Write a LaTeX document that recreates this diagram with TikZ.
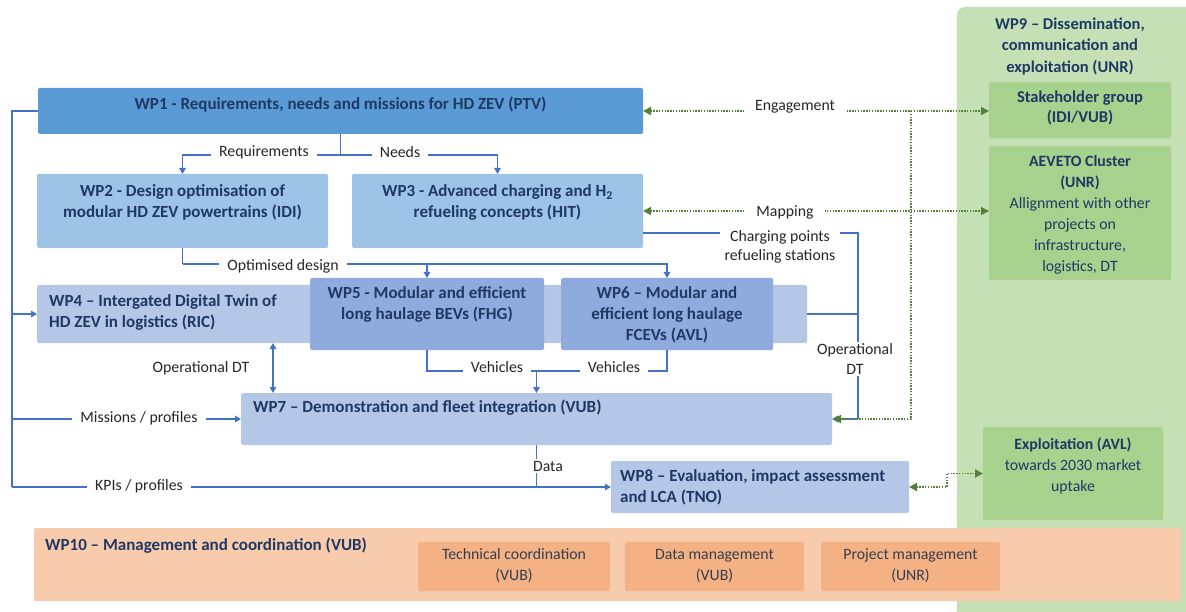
\documentclass[tikz,border=0pt]{standalone}
\usepackage{fontspec}
\setmainfont{Carlito}
\usetikzlibrary{arrows.meta,calc}
\definecolor{cwpa}{HTML}{5B9BD5}
\definecolor{cwpb}{HTML}{9DC3E6}
\definecolor{cwpc}{HTML}{B4C7E7}
\definecolor{cwpd}{HTML}{8FAADC}
\definecolor{cnavy}{HTML}{1F3864}
\definecolor{clbl}{HTML}{262626}
\definecolor{cline}{HTML}{4472C4}
\definecolor{cdgreen}{HTML}{548235}
\definecolor{cgbg}{HTML}{C5E0B4}
\definecolor{cgbox}{HTML}{A9D18E}
\definecolor{cobg}{HTML}{F8CBAD}
\definecolor{cobox}{HTML}{F4B183}
\definecolor{cotxt}{HTML}{333F50}
\tikzset{
  wpbox/.style={inner sep=0pt, outer sep=0pt, rounded corners=1.5pt, draw=none, anchor=north west},
  btxt/.style={font=\bfseries\fontsize{17}{21}\selectfont, text=cnavy, align=center, inner sep=0pt},
  ntxt/.style={font=\fontsize{15.8}{21}\selectfont, text=cnavy, align=center, inner sep=0pt},
  lbl/.style={font=\fontsize{15.8}{19.5}\selectfont, text=clbl, fill=white, inner xsep=8pt, inner ysep=2pt, align=center},
  glbl/.style={lbl, inner xsep=11pt},
  conn/.style={draw=cline, line width=1.4pt},
  arr/.style={conn, -{Triangle[length=6pt,width=6.5pt]}},
  darr/.style={conn, {Triangle[length=6pt,width=6.5pt]}-{Triangle[length=6pt,width=6.5pt]}},
  dotc/.style={draw=cdgreen, line width=1.8pt, dash pattern=on 1.4pt off 1.4pt},
  gtip/.style={-{Triangle[length=8pt,width=8pt]}},
  gtips/.style={{Triangle[length=8pt,width=8pt]}-{Triangle[length=8pt,width=8pt]}},
}
\begin{document}
\begin{tikzpicture}[x=1pt,y=-1pt]
\useasboundingbox (0,0) rectangle (1186,612);
\fill[white] (0,0) rectangle (1186,612);

% WP9 background
\node[wpbox, fill=cgbg, rounded corners=8pt, minimum width=280pt, minimum height=650pt] (wp9) at (957,7) {};
\node[btxt, font=\bfseries\fontsize{16.5}{21.5}\selectfont] (wp9t) at (1070,46) {WP9 -- Dissemination,\\communication  and\\exploitation (UNR)};
\node[wpbox, fill=cgbox, minimum width=182pt, minimum height=56pt] (sh) at (989,82) {};
\node[btxt, font=\bfseries\fontsize{16.5}{19.5}\selectfont] (sht) at (1080,108) {Stakeholder group\\(IDI/VUB)};
\node[wpbox, fill=cgbox, minimum width=182pt, minimum height=134pt] (aev) at (989,146) {};
\node[ntxt] (aevt) at (1080,214.5) {\textbf{AEVETO Cluster}\\\textbf{(UNR)}\\Allignment with other\\projects on\\infrastructure,\\logistics, DT};
\node[wpbox, fill=cgbox, minimum width=180pt, minimum height=93pt] (expl) at (983,427) {};
\node[ntxt] (explt) at (1073,466) {\textbf{Exploitation (AVL)}\\towards 2030 market\\uptake};

% WP10
\node[wpbox, fill=cobg, minimum width=1147pt, minimum height=73pt] (wp10) at (34,528) {};
\node[btxt, anchor=west] (wp10t) at (45,546) {WP10 -- Management and coordination (VUB)};
\node[wpbox, fill=cobox, minimum width=192pt, minimum height=49pt] (tc) at (418,542) {};
\node[ntxt, text=cotxt] (tct) at (514,566) {Technical coordination\\(VUB)};
\node[wpbox, fill=cobox, minimum width=179pt, minimum height=49pt] (dm) at (625,542) {};
\node[ntxt, text=cotxt] (dmt) at (714.5,566) {Data management\\(VUB)};
\node[wpbox, fill=cobox, minimum width=179pt, minimum height=49pt] (pm) at (821,542) {};
\node[ntxt, text=cotxt] (pmt) at (910.5,566) {Project management\\(UNR)};

% Work package boxes
\node[wpbox, fill=cwpa, minimum width=605pt, minimum height=46pt] (wp1) at (38,88) {};
\node[btxt] (wp1t) at (340.5,105) {WP1 - Requirements, needs and missions for HD ZEV (PTV)};
\node[wpbox, fill=cwpb, minimum width=291pt, minimum height=74pt] (wp2) at (37,174) {};
\node[btxt] (wp2t) at (182.5,202.5) {WP2 - Design optimisation of\\modular  HD ZEV powertrains (IDI)};
\node[wpbox, fill=cwpb, minimum width=291pt, minimum height=74pt] (wp3) at (352,174) {};
\node[btxt] (wp3t) at (497.5,202.5) {WP3 - Advanced charging and H\textsubscript{2}\\refueling concepts (HIT)};
\node[wpbox, fill=cwpc, minimum width=770pt, minimum height=58pt] (wp4) at (37,285) {};
\node[btxt, anchor=west, align=left] (wp4t) at (49,312) {WP4 -- Intergated Digital Twin of\\HD ZEV in logistics (RIC)};
\node[wpbox, fill=cwpd, minimum width=234pt, minimum height=72pt] (wp5) at (310,278) {};
\node[btxt] (wp5t) at (427,304.5) {WP5 -  Modular and efficient\\long haulage BEVs (FHG)};
\node[wpbox, fill=cwpd, minimum width=212pt, minimum height=72pt] (wp6) at (561,278) {};
\node[btxt] (wp6t) at (667,315) {WP6 -- Modular and\\efficient long haulage\\FCEVs (AVL)};
\node[wpbox, fill=cwpc, minimum width=591pt, minimum height=52pt] (wp7) at (241,393) {};
\node[btxt, anchor=west] (wp7t) at (253,408) {WP7 -- Demonstration and fleet integration (VUB)};
\node[wpbox, fill=cwpc, minimum width=298pt, minimum height=52pt] (wp8) at (611,461) {};
\node[btxt, anchor=west, align=left] (wp8t) at (620,487.5) {WP8 -- Evaluation, impact assessment\\and LCA (TNO)};

% helper coordinates
\coordinate (lbus) at (12,0);
\coordinate (rbus) at (858,0);
\coordinate (gbus) at (911,0);
\coordinate (odx) at (273,0);
\coordinate (wp3o) at ([yshift=-22pt]wp3.east);

% blue connectors
\draw[conn] (wp1.west) -| (lbus |- wp8.west);
\draw[arr] (lbus |- wp4.west) -- (wp4.west);
\draw[arr] (lbus |- wp7.west) -- (wp7.west);
\draw[arr] (lbus |- wp8.west) -- (wp8.west);
\draw[conn] (wp1.south) -- ++(0,21) coordinate (rq);
\draw[arr] (rq) -| (wp2.north);
\draw[arr] (rq) -| (wp3.north);
\draw[conn] (wp2.south) -- ++(0,16) coordinate (od);
\draw[arr] (od) -| (wp6.north);
\draw[arr] (od -| wp5.north) -- (wp5.north);
\draw[conn] (wp5.south) |- (wp7.north |- 0,371) coordinate (vh);
\draw[conn] (wp6.south) |- (vh);
\draw[arr] (vh) -- (wp7.north);
\draw[darr] (wp4.south -| odx) -- (wp7.north -| odx);
\draw[conn] (wp7.south) -- (wp7.south |- wp8.west);
\draw[conn] (wp3o) -| (rbus |- wp7.east);
\draw[conn] (wp4.east) -- (rbus |- wp4.east);
\draw[arr] (rbus |- wp7.east) -- (wp7.east);

% green dotted connectors
\draw[dotc, gtips] (wp1.east) -- (wp1.east -| sh.west);
\draw[dotc, gtips] (wp3.east) -- (wp3.east -| aev.west);
\draw[dotc, gtip] (gbus |- wp1.east) -- (gbus |- wp7.east) -- ([xshift=1pt]wp7.east);
\draw[dotc, gtips] (wp8.east) -- (947,487) |- (expl.west);

% connector labels
\node[lbl] (lrq) at (264,152) {Requirements};
\node[lbl] (lnd) at (400,152) {Needs};
\node[lbl] (lod) at (283,266) {Optimised design};
\node[lbl] (lv1) at (497,367) {Vehicles};
\node[lbl] (lv2) at (614,367) {Vehicles};
\node[lbl] (lodt) at (201,368) {Operational DT};
\node[lbl] (lmp) at (139,418) {Missions / profiles};
\node[lbl] (lkp) at (139,486) {KPIs / profiles};
\node[lbl, inner xsep=3pt] (ldt) at (548,466) {Data};
\node[glbl] (leng) at (795,107) {Engagement};
\node[glbl] (lmap) at (785,212) {Mapping};
\node[lbl, inner xsep=5pt] (lcp) at (780,247) {Charging points\\refueling stations};
\node[lbl, inner xsep=3pt] (lodr) at (855,359) {Operational\\DT};
\end{tikzpicture}
\end{document}
